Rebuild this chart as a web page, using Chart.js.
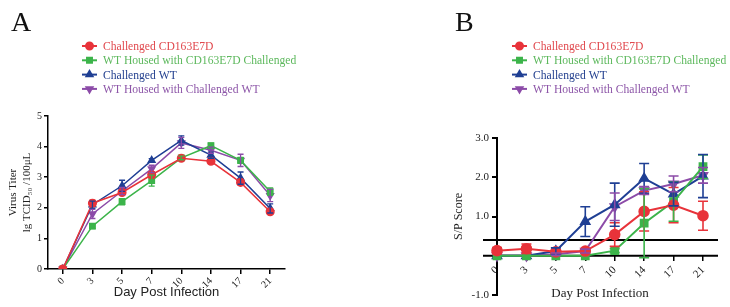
<!DOCTYPE html>
<html>
<head>
<meta charset="utf-8">
<script src="https://cdn.jsdelivr.net/npm/chart.js@4.4.1/dist/chart.umd.min.js"></script>
<style>
body { margin: 0; background: #fff; width: 730px; height: 307px; overflow: hidden; }
canvas { position: absolute; top: 0; }
#chartA { left: 0; }
#chartB { left: 365px; }
</style>
</head>
<body>
<canvas id="chartA" width="365" height="307"></canvas>
<canvas id="chartB" width="365" height="307"></canvas>
<script>
// data
const days = ["0", "3", "5", "7", "10", "14", "17", "21"];
const seriesNames = ["Challenged CD163E7D", "WT Housed with CD163E7D Challenged", "Challenged WT", "WT Housed with Challenged WT"];

// panel A - virus titer
const titerChallengedKO = [0, 2.15, 2.5, 3.08, 3.62, 3.52, 2.83, 1.87];
const titerHousedKO = [0, 1.4, 2.2, 2.89, 3.63, 4.03, 3.55, 2.53];
const titerChallengedWT = [0, 2.1, 2.72, 3.55, 4.2, 3.72, 2.97, 1.98];
const titerHousedWT = [0, 1.8, 2.55, 3.27, 4.12, 3.88, 3.55, 2.4];
const titerErrChallengedKO = [0, 0.1, 0.08, 0.1, 0.05, 0.06, 0.08, 0.06];
const titerErrHousedKO = [0, 0.08, 0.1, 0.18, 0.06, 0.08, 0.1, 0.12];
const titerErrChallengedWT = [0, 0.12, 0.18, 0.06, 0.15, 0.1, 0.2, 0.15];
const titerErrHousedWT = [0, 0.15, 0.12, 0.12, 0.18, 0.1, 0.2, 0.2];

// panel B - S/P score
const spChallengedKO = [0.13, 0.18, 0.1, 0.12, 0.54, 1.13, 1.29, 1.02];
const spHousedKO = [0, 0, 0, 0, 0.13, 0.83, 1.38, 2.27];
const spChallengedWT = [0, 0, 0.12, 0.87, 1.3, 1.97, 1.57, 2.03];
const spHousedWT = [0, 0, 0.04, 0.12, 1.25, 1.66, 1.83, 2.05];
const spErrChallengedKO = [0.08, 0.12, 0.05, 0.05, 0.3, 0.5, 0.45, 0.37];
const spErrHousedKO = [0, 0, 0, 0, 0.05, 0.88, 0.5, 0.3];
const spErrChallengedWT = [0, 0, 0.08, 0.38, 0.55, 0.38, 0.3, 0.55];
const spErrHousedWT = [0, 0, 0.03, 0.05, 0.35, 0.1, 0.2, 0.2];
const spCutoff = 0.4;

const colors = ["#e8333a", "#3cb44a", "#1f3f94", "#8c4ba8"];
const textColors = ["#e0474c", "#5cb85c", "#23408f", "#8d56a8"];
const pointStyles = ["circle", "rect", "triangle", "triangle"];
const pointRotations = [0, 0, 0, 180];
const SERIF = "'Liberation Serif', 'Times New Roman', serif";
const SANS = "'Liberation Sans', Arial, sans-serif";

const makeDatasets = (values, errors, radius, width) => {
    return values.map((v, i) => ({
        label: seriesNames[i],
        data: v,
        errors: errors[i],
        borderColor: colors[i],
        backgroundColor: colors[i],
        pointBackgroundColor: colors[i],
        pointBorderColor: colors[i],
        pointStyle: pointStyles[i],
        pointRotation: pointRotations[i],
        pointRadius: radius,
        borderWidth: width,
        tension: 0,
    }));
};

// error bars with caps
const errorBars = {
    id: "errorBars",
    afterDatasetsDraw(chart, args, opts) {
        const ctx = chart.ctx;
        const y = chart.scales.y;
        chart.data.datasets.forEach((ds, di) => {
            const meta = chart.getDatasetMeta(di);
            ctx.save();
            ctx.strokeStyle = ds.borderColor;
            ctx.lineWidth = opts.width;
            meta.data.forEach((pt, i) => {
                const e = ds.errors[i];
                if (!e) return;
                const top = y.getPixelForValue(ds.data[i] + e);
                const bot = y.getPixelForValue(ds.data[i] - e);
                ctx.beginPath();
                ctx.moveTo(pt.x, top);
                ctx.lineTo(pt.x, bot);
                ctx.moveTo(pt.x - opts.cap, top);
                ctx.lineTo(pt.x + opts.cap, top);
                ctx.moveTo(pt.x - opts.cap, bot);
                ctx.lineTo(pt.x + opts.cap, bot);
                ctx.stroke();
            });
            ctx.restore();
        });
    },
};

// panel letter and coloured legend
const panelDecor = {
    id: "panelDecor",
    afterDraw(chart, args, opts) {
        const ctx = chart.ctx;
        ctx.save();
        ctx.fillStyle = "#111";
        ctx.font = "28px " + SERIF;
        ctx.textBaseline = "alphabetic";
        ctx.fillText(opts.letter, opts.letterX, 31);
        ctx.font = "11.6px " + SERIF;
        ctx.textBaseline = "middle";
        seriesNames.forEach((name, i) => {
            const cy = opts.legendY + i * 14.3;
            ctx.strokeStyle = colors[i];
            ctx.fillStyle = colors[i];
            ctx.lineWidth = 2;
            ctx.beginPath();
            ctx.moveTo(opts.legendX, cy);
            ctx.lineTo(opts.legendX + 15, cy);
            ctx.stroke();
            Chart.helpers.drawPoint(ctx, { pointStyle: pointStyles[i], radius: 3.5, rotation: pointRotations[i], borderWidth: 1 }, opts.legendX + 7.5, cy);
            ctx.fillStyle = textColors[i];
            ctx.fillText(name, opts.legendX + 21, cy + 1);
        });
        ctx.restore();
    },
};

// zero line and cutoff line for panel B
const refLines = {
    id: "refLines",
    beforeDatasetsDraw(chart, args, opts) {
        const ctx = chart.ctx;
        const area = chart.chartArea;
        ctx.save();
        ctx.strokeStyle = "#000";
        ctx.lineWidth = 2;
        [0, spCutoff].forEach((v) => {
            const py = chart.scales.y.getPixelForValue(v);
            ctx.beginPath();
            ctx.moveTo(area.left - 14, py);
            ctx.lineTo(area.right + 15, py);
            ctx.stroke();
        });
        ctx.restore();
    },
};

const chartA = new Chart(document.getElementById("chartA"), {
    type: "line",
    data: {
        labels: days,
        datasets: makeDatasets(
            [titerChallengedKO, titerHousedKO, titerChallengedWT, titerHousedWT],
            [titerErrChallengedKO, titerErrHousedKO, titerErrChallengedWT, titerErrHousedWT],
            3.8, 1.5
        ),
    },
    options: {
        responsive: false,
        animation: false,
        layout: { padding: { top: 116, right: 80, bottom: 0, left: 0 } },
        plugins: {
            legend: { display: false },
            tooltip: { enabled: false },
            errorBars: { width: 1.3, cap: 3 },
            panelDecor: { letter: "A", letterX: 11, legendX: 82, legendY: 46 },
        },
        scales: {
            x: {
                offset: true,
                afterFit: (s) => { s.height = 38; },
                grid: { drawOnChartArea: false, color: "#000", lineWidth: 1.5, tickLength: 5 },
                border: { color: "#000", width: 1.5 },
                ticks: { color: "#222", font: { family: SERIF, size: 10 }, minRotation: 45, maxRotation: 45, padding: 1 },
                title: { display: true, text: "Day Post Infection", color: "#222", font: { family: SANS, size: 13 }, padding: { top: 0, bottom: 7 } },
            },
            y: {
                min: 0,
                max: 5,
                afterFit: (s) => { s.width = 48; },
                grid: { drawOnChartArea: false, color: "#000", lineWidth: 1.5, tickLength: 4 },
                border: { color: "#000", width: 1.5 },
                ticks: { stepSize: 1, color: "#222", font: { family: SERIF, size: 10 }, padding: 2 },
                title: { display: true, text: ["Virus Titer", "lg TCID\u2085\u2080 /100\u03bcL"], color: "#222", font: { family: SERIF, size: 11 }, padding: { top: 7, bottom: 0 } },
            },
        },
    },
    plugins: [errorBars, panelDecor],
});

const chartB = new Chart(document.getElementById("chartB"), {
    type: "line",
    data: {
        labels: days,
        datasets: makeDatasets(
            [spChallengedKO, spHousedKO, spChallengedWT, spHousedWT],
            [spErrChallengedKO, spErrHousedKO, spErrChallengedWT, spErrHousedWT],
            4.8, 2
        ),
    },
    options: {
        responsive: false,
        animation: false,
        clip: false,
        layout: { padding: { top: 138, right: 27, bottom: 12, left: 0 } },
        plugins: {
            legend: { display: false },
            tooltip: { enabled: false },
            errorBars: { width: 1.6, cap: 5 },
            panelDecor: { letter: "B", letterX: 90, legendX: 147, legendY: 46 },
        },
        scales: {
            x: {
                position: { y: 0 },
                offset: false,
                grid: { drawOnChartArea: false, color: "#000", lineWidth: 1.5, tickLength: 5 },
                border: { display: false },
                ticks: { color: "#222", font: { family: SERIF, size: 11 }, minRotation: 45, maxRotation: 45, padding: 3 },
                title: { display: true, text: "Day Post Infection", color: "#222", font: { family: SERIF, size: 13 }, padding: { top: 2, bottom: 0 } },
            },
            y: {
                min: -1,
                max: 3,
                afterFit: (s) => { s.width = 132; },
                grid: { drawOnChartArea: false, color: "#000", lineWidth: 2, tickLength: 5 },
                border: { color: "#000", width: 2 },
                ticks: {
                    stepSize: 1,
                    color: "#222",
                    font: { family: SERIF, size: 11 },
                    padding: 3,
                    callback: (v) => (v === 0 ? "" : v.toFixed(1)),
                },
                title: { display: true, text: "S/P Score", color: "#222", font: { family: SERIF, size: 12 }, padding: { top: 87, bottom: 0 } },
            },
        },
    },
    plugins: [refLines, errorBars, panelDecor],
});
</script>
</body>
</html>
